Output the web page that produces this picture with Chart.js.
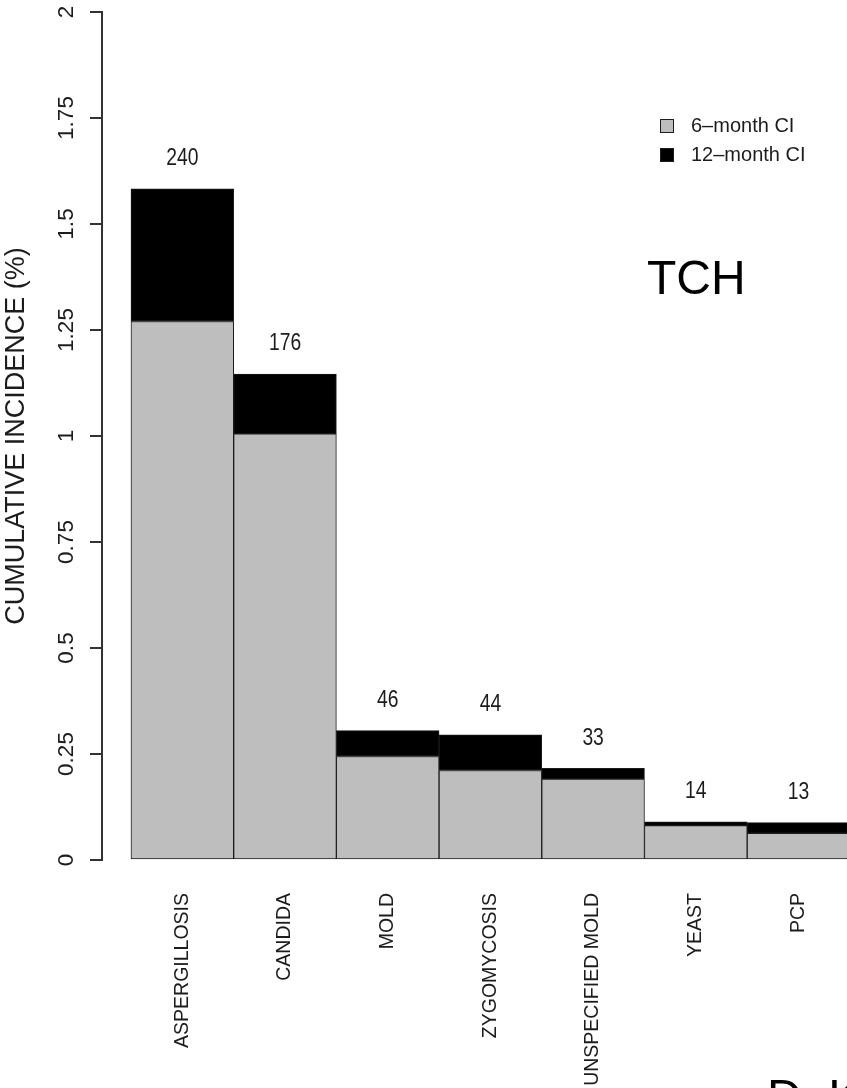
<!DOCTYPE html>
<html>
<head>
<meta charset="utf-8">
<title>Cumulative incidence - TCH</title>
<script src="https://cdn.jsdelivr.net/npm/chart.js@4.4.1/dist/chart.umd.min.js"></script>
<style>
  body { margin: 0; background: #fff; }
  #wrap { width: 847px; height: 1088px; }
</style>
</head>
<body>
<div id="wrap"><canvas id="myChart" width="847" height="1088"></canvas></div>
<script>
// values
const categories = ["ASPERGILLOSIS", "CANDIDA", "MOLD", "ZYGOMYCOSIS", "UNSPECIFIED MOLD", "YEAST", "PCP"];
const sixMonthCI = [1.27, 1.005, 0.244, 0.211, 0.191, 0.081, 0.063];
const twelveMonthCI = [1.583, 1.146, 0.305, 0.295, 0.216, 0.090, 0.088];
const caseCounts = [240, 176, 46, 44, 33, 14, 13];
const yTickValues = [0, 0.25, 0.5, 0.75, 1, 1.25, 1.5, 1.75, 2];

const GRAY = "#bebebe";
const INK = "#1c1c1c";
const FONT = "'Liberation Sans', Arial, sans-serif";

// black part is the extra between 6 and 12 months
const extra = twelveMonthCI.map((v, i) => v - sixMonthCI[i]);

const datasets = [
  {
    label: "6\u2013month CI",
    backgroundColor: GRAY,
    borderColor: INK,
    borderWidth: 1,
    borderSkipped: false,
    data: sixMonthCI.map((v, i) => ({ x: i, y: v }))
  },
  {
    label: "12\u2013month CI",
    backgroundColor: "#000",
    borderColor: INK,
    borderWidth: 1,
    borderSkipped: false,
    data: extra.map((v, i) => ({ x: i, y: v }))
  }
];

// counts above the bars, legend and the free text
const annotations = {
  id: "annotations",
  afterDatasetsDraw(chart) {
    const ctx = chart.ctx;
    const xs = chart.scales.x;
    const ys = chart.scales.y;
    ctx.save();
    ctx.fillStyle = INK;
    ctx.textAlign = "center";
    ctx.textBaseline = "middle";
    ctx.font = "23px " + FONT;
    caseCounts.forEach((c, i) => {
      const s = String(c);
      // squeeze a bit, the counts are set in a narrow face
      const w = ctx.measureText(s).width * 0.84;
      ctx.fillText(s, xs.getPixelForValue(i), ys.getPixelForValue(twelveMonthCI[i]) - 30, w);
    });

    // legend
    ctx.font = "20px " + FONT;
    ctx.textAlign = "left";
    chart.data.datasets.forEach((ds, k) => {
      const top = 119 + k * 29;
      ctx.fillStyle = ds.backgroundColor;
      ctx.fillRect(660, top, 14, 14);
      ctx.strokeStyle = INK;
      ctx.lineWidth = 1;
      ctx.strokeRect(660.5, top + 0.5, 13, 13);
      ctx.fillStyle = INK;
      ctx.fillText(ds.label, 691, top + 7);
    });

    ctx.font = "48px " + FONT;
    ctx.textBaseline = "alphabetic";
    ctx.fillStyle = "#000";
    ctx.fillText("TCH", 647, 294);
    ctx.fillText("D. K", 767, 1113);
    ctx.restore();
  }
};

const config = {
  type: "bar",
  data: { datasets },
  options: {
    responsive: false,
    animation: false,
    layout: { padding: { top: 12, right: 0, bottom: 0, left: 0 } },
    datasets: { bar: { barPercentage: 1, categoryPercentage: 1 } },
    plugins: {
      legend: { display: false },
      tooltip: { enabled: false }
    },
    scales: {
      x: {
        type: "linear",
        stacked: true,
        offset: false,
        min: -0.782,
        max: 6.472,
        grid: { display: false, drawTicks: false, offset: false },
        border: { display: false },
        afterFit(scale) {
          scale.height = 228;
          scale.paddingLeft = 0;
          scale.paddingRight = 0;
        },
        ticks: {
          stepSize: 1,
          includeBounds: false,
          autoSkip: false,
          minRotation: 90,
          maxRotation: 90,
          padding: 33,
          color: INK,
          font: { family: FONT, size: 19.5 },
          callback: (v) => categories[v] || ""
        }
      },
      y: {
        stacked: true,
        min: 0,
        max: 2,
        afterFit(scale) {
          scale.width = 102;
          scale.paddingTop = 0;
          scale.paddingBottom = 0;
        },
        afterBuildTicks(scale) { scale.ticks = yTickValues.map((v) => ({ value: v })); },
        grid: { drawOnChartArea: false, drawTicks: true, tickLength: 12, color: "#333", lineWidth: 2 },
        border: { display: true, color: "#333", width: 2 },
        ticks: {
          minRotation: 90,
          maxRotation: 90,
          crossAlign: "center",
          padding: 1,
          color: INK,
          font: { family: FONT, size: 22.5 },
          callback: (v) => String(+Number(v).toFixed(2))
        },
        title: {
          display: true,
          text: "CUMULATIVE INCIDENCE (%)",
          color: INK,
          padding: { top: 0, bottom: 0 },
          font: { family: FONT, size: 27 }
        }
      }
    }
  },
  plugins: [annotations]
};

const myChart = document.getElementById("myChart");
myChart.style.backgroundColor = "white";
new Chart(myChart, config);
</script>
</body>
</html>
